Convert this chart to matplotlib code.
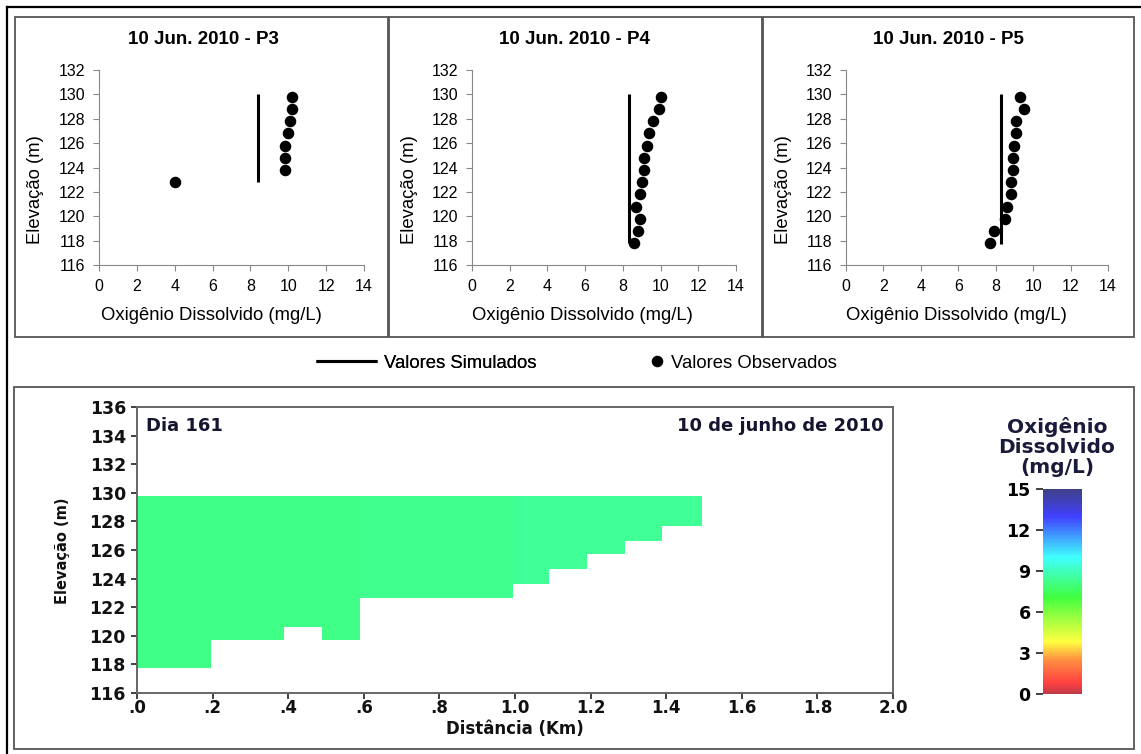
import numpy as np
import matplotlib
matplotlib.use("Agg")
import matplotlib.pyplot as plt
from matplotlib.patches import Rectangle
from matplotlib.lines import Line2D
from matplotlib.colors import LinearSegmentedColormap, Normalize
from matplotlib.cm import ScalarMappable

W, H = 1141, 754

## perfis (top row)
titles = ['10 Jun. 2010 - P3', '10 Jun. 2010 - P4', '10 Jun. 2010 - P5']
sim_do = [8.4, 8.3, 8.27]
sim_top = [130.0, 130.0, 130.0]
sim_bottom = [122.8, 117.8, 117.7]

p3_elev = [129.8, 128.8, 127.8, 126.8, 125.8, 124.8, 123.8, 122.8]
p3_do = [10.2, 10.2, 10.1, 10.0, 9.8, 9.8, 9.8, 4.0]
p4_elev = [129.8, 128.8, 127.8, 126.8, 125.8, 124.8, 123.8, 122.8, 121.8, 120.8, 119.8, 118.8, 117.8]
p4_do = [10.0, 9.9, 9.6, 9.4, 9.3, 9.1, 9.1, 9.0, 8.9, 8.7, 8.9, 8.8, 8.6]
p5_elev = [129.8, 128.8, 127.8, 126.8, 125.8, 124.8, 123.8, 122.8, 121.8, 120.8, 119.8, 118.8, 117.8]
p5_do = [9.3, 9.5, 9.1, 9.1, 9.0, 8.9, 8.9, 8.8, 8.8, 8.6, 8.5, 7.9, 7.7]
obs_elev = [p3_elev, p4_elev, p5_elev]
obs_do = [p3_do, p4_do, p5_do]

## longitudinal section (bottom)
col_edges = [0, 0.195, 0.39, 0.49, 0.59, 0.995, 1.09, 1.19, 1.29, 1.39, 1.495]
col_bottom = [117.75, 119.7, 120.65, 119.7, 122.65, 123.65, 124.65, 125.7, 126.65, 127.7]
col_do = [8.2, 8.2, 8.2, 8.2, 8.3, 8.4, 8.4, 8.4, 8.4, 8.4]
surface = 129.8
xtick_vals = [0, 0.2, 0.4, 0.6, 0.8, 1.0, 1.2, 1.4, 1.6, 1.8, 2.0]
xtick_labels = ['.0', '.2', '.4', '.6', '.8', '1.0', '1.2', '1.4', '1.6', '1.8', '2.0']
cb_ticks = [0, 3, 6, 9, 12, 15]

cmap_stops = [(0, '#c03a48'), (0.8, '#ff4040'), (2.5, '#ff9040'), (3.8, '#ffff40'),
              (5.2, '#b0ff40'), (7.1, '#40ff40'), (10, '#40ffff'), (11.5, '#40a0ff'),
              (13, '#4040ff'), (15, '#404088')]
cmap = LinearSegmentedColormap.from_list('od', [(v / 15, c) for v, c in cmap_stops])
norm = Normalize(0, 15)


def rect(x0, y0, x1, y1):
    return [x0 / W, 1 - y1 / H, (x1 - x0) / W, (y1 - y0) / H]


fig = plt.figure(figsize=(W / 100, H / 100), dpi=100)
plt.rcParams['font.family'] = ['Liberation Sans', 'DejaVu Sans']

# frames
fig.add_artist(Line2D([7 / W, 7 / W], [0, 1 - 7 / H], color='k', lw=1.6))
fig.add_artist(Line2D([7 / W, 1], [1 - 7 / H, 1 - 7 / H], color='k', lw=1.6))
for bx in [(15, 17, 388, 337), (389, 17, 762, 337), (763, 17, 1134, 337), (14, 387, 1134, 749)]:
    r = rect(*bx)
    fig.add_artist(Rectangle((r[0], r[1]), r[2], r[3], transform=fig.transFigure,
                             fill=False, ec='#555555', lw=1.3))

ax_x = [(99, 364), (472, 736), (846, 1108)]
box_cx = [203, 574, 948]
ylab_x = [36, 410, 783]
handles = []
for i in range(3):
    ax = fig.add_axes(rect(ax_x[i][0], 70, ax_x[i][1], 265))
    ln, = ax.plot([sim_do[i], sim_do[i]], [sim_bottom[i], sim_top[i]], color='k', lw=2.2,
                  solid_capstyle='butt')
    pt, = ax.plot(obs_do[i], obs_elev[i], 'o', color='k', ms=7.3, ls='none')
    if i == 0:
        handles = [ln, pt]
    ax.set_xlim(0, 14)
    ax.set_ylim(116, 132)
    ax.set_xticks(range(0, 15, 2))
    ax.set_yticks(range(116, 133, 2))
    for s in ['top', 'right']:
        ax.spines[s].set_visible(False)
    for s in ['left', 'bottom']:
        ax.spines[s].set_color('#888888')
    ax.tick_params(colors='#888888', labelcolor='k', length=4, pad=6, labelsize=11.5)
    ax.patch.set_alpha(0)
    fig.text(box_cx[i] / W, 1 - 40 / H, titles[i], ha='center', va='center',
             fontsize=13.5, fontweight='bold')
    fig.text((box_cx[i] + 8) / W, 1 - 316 / H, 'Oxigênio Dissolvido (mg/L)',
             ha='center', va='center', fontsize=13.3)
    fig.text(ylab_x[i] / W, 1 - 190 / H, 'Elevação (m)', ha='center', va='center',
             rotation=90, fontsize=13.3)

leg1 = fig.legend([handles[0]], ['Valores Simulados'], loc='center left',
                  bbox_to_anchor=(316 / W, 1 - 363 / H), frameon=False, fontsize=13.3,
                  handlelength=3.3, handletextpad=0.4, borderpad=0, borderaxespad=0)
leg2 = fig.legend([handles[1]], ['Valores Observados'], loc='center left',
                  bbox_to_anchor=(648 / W, 1 - 363 / H), frameon=False, fontsize=13.3,
                  handlelength=1.0, handletextpad=0.25, borderpad=0, borderaxespad=0)
fig.add_artist(leg1)

# bottom section
bold = dict(family='DejaVu Sans', fontweight='bold')
axb = fig.add_axes(rect(137, 407, 893, 693))
widths = np.diff(col_edges)
heights = surface - np.array(col_bottom)
axb.bar(col_edges[:-1], heights, width=widths, bottom=col_bottom, align='edge',
        color=cmap(norm(col_do)), edgecolor='none', linewidth=0)
axb.set_xlim(0, 2)
axb.set_ylim(116, 136)
axb.set_xticks(xtick_vals)
axb.set_xticklabels(xtick_labels)
axb.set_yticks(range(116, 137, 2))
for s in axb.spines.values():
    s.set_color('#666666')
    s.set_linewidth(1.4)
axb.tick_params(colors='#333333', labelcolor='#111111', length=4, width=1.3, pad=4)
axb.tick_params(axis='x', pad=0.5)
for lab in axb.get_yticklabels():
    lab.set_fontfamily('DejaVu Sans')
    lab.set_fontweight('bold')
    lab.set_fontsize(12.5)
for lab in axb.get_xticklabels():
    lab.set_fontfamily('DejaVu Sans')
    lab.set_fontweight('bold')
    lab.set_fontsize(12)
axb.text(0.012, 0.965, 'Dia 161', transform=axb.transAxes, ha='left', va='top',
         fontsize=13, color='#151530', **bold)
axb.text(0.988, 0.965, '10 de junho de 2010', transform=axb.transAxes, ha='right',
         va='top', fontsize=13, color='#151530', **bold)
fig.text(515 / W, 1 - 729 / H, 'Distância (Km)', ha='center', va='center',
         fontsize=12, color='#111111', **bold)
fig.text(63 / W, 1 - 551 / H, 'Elevação (m)', ha='center', va='center', rotation=90,
         fontsize=10.5, color='#111111', **bold)

# colorbar
axc = fig.add_axes(rect(1043, 489, 1082, 694))
cb = fig.colorbar(ScalarMappable(norm=norm, cmap=cmap), cax=axc, ticks=cb_ticks)
cb.outline.set_visible(False)
axc.yaxis.set_ticks_position('left')
axc.yaxis.set_label_position('left')
axc.tick_params(length=5, width=1.3, color='#333333', pad=4)
for lab in axc.get_yticklabels():
    lab.set_fontfamily('DejaVu Sans')
    lab.set_fontweight('bold')
    lab.set_fontsize(12.5)
fig.text(1057 / W, 1 - 447 / H, 'Oxigênio\nDissolvido\n(mg/L)', ha='center', va='center',
         fontsize=14.5, color='#1a1a3a', linespacing=1.05, **bold)

fig.savefig('out.png', dpi=100)
